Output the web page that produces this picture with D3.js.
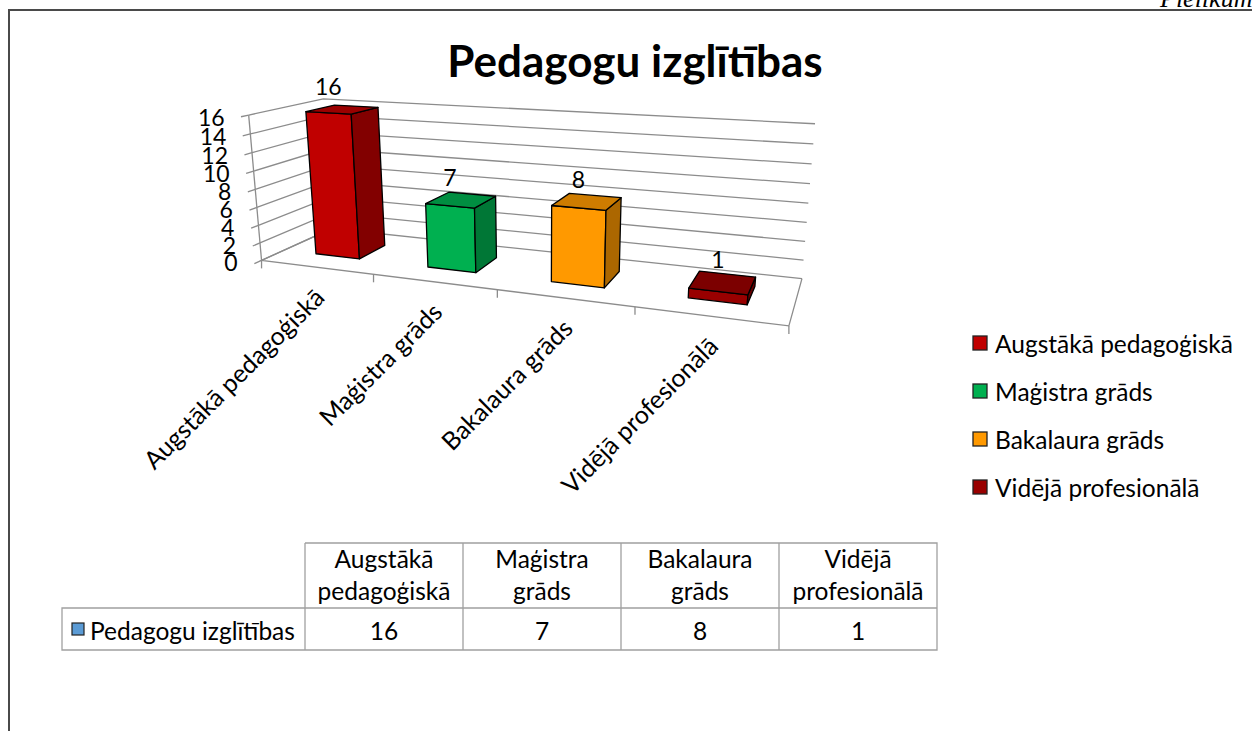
<!DOCTYPE html>
<html>
<head>
<meta charset="utf-8">
<script src="https://cdn.jsdelivr.net/npm/d3@7"></script>
<style>
  body { margin: 0; background: #fff; }
  svg text { font-family: Lato, "Open Sans", sans-serif; fill: #000; }
</style>
</head>
<body>
<div id="chart"></div>
<script>
// data
const title = "Pedagogu izglītības";
const seriesName = "Pedagogu izglītības";
const categories = ["Augstākā pedagoģiskā", "Maģistra grāds", "Bakalaura grāds", "Vidējā profesionālā"];
const values = [16, 7, 8, 1];
const barColors = ["#C00000", "#00B050", "#FF9900", "#990000"];
const yTicks = [0, 2, 4, 6, 8, 10, 12, 14, 16];
const seriesColor = "#5B9BD5";

const width = 1252, height = 731;

const svg = d3.select("#chart").append("svg")
    .attr("width", width)
    .attr("height", height);

// world scales (x across the categories, y up, z into the page)
const x = d3.scaleBand().domain(categories).range([0, 4]).paddingInner(0.6).paddingOuter(0.3);
const y = d3.scaleLinear().domain([0, 16]).range([0, 4]);
const zFront = 0.3, zBack = 0.7;

// fit a perspective camera on the corners of the plot box
const anchors = [
    {w: [0, 0, 0], s: [262, 261]},
    {w: [1, 0, 0], s: [373, 274]},
    {w: [2, 0, 0], s: [497, 290]},
    {w: [3, 0, 0], s: [634, 307]},
    {w: [4, 0, 0], s: [790, 325]},
    {w: [4, 0, 1], s: [802, 278]},
    {w: [0, 0, 1], s: [332, 229]},
    {w: [0, 4, 0], s: [249, 115]},
    {w: [0, 4, 1], s: [323, 98]},
    {w: [4, 4, 1], s: [815, 125]}
];

function fitCamera(pairs) {
    const n = 11;
    const M = d3.range(n).map(() => new Array(n + 1).fill(0));
    function add(row, rhs) {
        for (let i = 0; i < n; i++) {
            for (let j = 0; j < n; j++) M[i][j] += row[i] * row[j];
            M[i][n] += row[i] * rhs;
        }
    }
    pairs.forEach(({w: [X, Y, Z], s: [u, v]}) => {
        add([X, Y, Z, 1, 0, 0, 0, 0, -u * X, -u * Y, -u * Z], u);
        add([0, 0, 0, 0, X, Y, Z, 1, -v * X, -v * Y, -v * Z], v);
    });
    for (let c = 0; c < n; c++) {
        let p = c;
        for (let r = c + 1; r < n; r++) if (Math.abs(M[r][c]) > Math.abs(M[p][c])) p = r;
        [M[c], M[p]] = [M[p], M[c]];
        for (let r = 0; r < n; r++) {
            if (r === c) continue;
            const f = M[r][c] / M[c][c];
            for (let k = c; k <= n; k++) M[r][k] -= f * M[c][k];
        }
    }
    const p = M.map((row, i) => row[n] / row[i]);
    return ([X, Y, Z]) => {
        const w = p[8] * X + p[9] * Y + p[10] * Z + 1;
        return [(p[0] * X + p[1] * Y + p[2] * Z + p[3]) / w,
                (p[4] * X + p[5] * Y + p[6] * Z + p[7]) / w];
    };
}

const proj = fitCamera(anchors);
const line3 = pts => "M" + pts.map(p => proj(p).join(",")).join("L");
const poly3 = pts => line3(pts) + "Z";

// outer frame + cut page header
svg.append("path")
    .attr("d", `M9,${height}V10H${width}`)
    .attr("fill", "none")
    .attr("stroke", "#4a4a4a")
    .attr("stroke-width", 2);

svg.append("text")
    .attr("x", 1160).attr("y", 7)
    .style("font-family", "'Liberation Serif', serif")
    .style("font-style", "italic")
    .style("font-size", "26px")
    .text("Pielikums");

// title
svg.append("text")
    .attr("x", 635).attr("y", 77)
    .attr("text-anchor", "middle")
    .style("font-size", "44px")
    .style("font-weight", "bold")
    .text(title);

// walls and gridlines
const grid = svg.append("g")
    .attr("fill", "none")
    .attr("stroke", "#8c8c8c")
    .attr("stroke-width", 1.3);

grid.selectAll(".back")
    .data(yTicks)
    .join("path")
    .attr("d", t => line3([[0, y(t), 0], [0, y(t), 1], [4, y(t), 1]]));

// floor outline and axes
grid.append("path").attr("d", line3([[0, 0, 1], [0, 0, 0], [4, 0, 0], [4, 0, 1]]));
grid.append("path").attr("d", line3([[0, 0, 0], [0, y(16), 0]]));

grid.selectAll(".ytick")
    .data(yTicks)
    .join("path")
    .attr("d", t => line3([[0, y(t), 0], [0, y(t), -0.09]]));

grid.selectAll(".xtick")
    .data(d3.range(categories.length + 1))
    .join("path")
    .attr("d", i => {
        const [px, py] = proj([i * x.step(), 0, 0]);
        return `M${px},${py}V${py + 8}`;
    });

// value axis labels
svg.append("g")
    .selectAll("text")
    .data(yTicks)
    .join("text")
    .attr("x", t => proj([0, y(t), 0])[0] - 24)
    .attr("y", t => proj([0, y(t), 0])[1] + 2)
    .attr("text-anchor", "end")
    .attr("dominant-baseline", "central")
    .style("font-size", "23px")
    .text(d => d);

// category labels
svg.append("g")
    .selectAll("text")
    .data(categories)
    .join("text")
    .attr("transform", c => {
        const [px, py] = proj([x(c) + x.bandwidth() / 2, 0, 0]);
        return `translate(${px + 10},${py + 32}) rotate(-45)`;
    })
    .attr("text-anchor", "end")
    .style("font-size", "25px")
    .text(d => d);

// bars
const bars = categories.map((c, i) => ({
    cat: c, value: values[i], color: barColors[i],
    x0: x(c), x1: x(c) + x.bandwidth(), h: y(values[i])
}));

const bar = svg.append("g")
    .attr("stroke", "#000")
    .attr("stroke-width", 1.3)
    .attr("stroke-linejoin", "round")
    .selectAll("g")
    .data(bars)
    .join("g");

bar.append("path")
    .attr("fill", d => d.color)
    .attr("d", d => poly3([[d.x0, 0, zFront], [d.x1, 0, zFront], [d.x1, d.h, zFront], [d.x0, d.h, zFront]]));
bar.append("path")
    .attr("fill", d => d3.color(d.color).darker(1.1))
    .attr("d", d => poly3([[d.x1, 0, zFront], [d.x1, 0, zBack], [d.x1, d.h, zBack], [d.x1, d.h, zFront]]));
bar.append("path")
    .attr("fill", d => d3.color(d.color).darker(0.6))
    .attr("d", d => poly3([[d.x0, d.h, zFront], [d.x1, d.h, zFront], [d.x1, d.h, zBack], [d.x0, d.h, zBack]]));

// data labels
svg.append("g")
    .selectAll("text")
    .data(bars)
    .join("text")
    .attr("x", d => proj([(d.x0 + d.x1) / 2, d.h, zFront])[0])
    .attr("y", d => proj([(d.x0 + d.x1) / 2, d.h, (zFront + zBack) / 2])[1] - 23)
    .attr("text-anchor", "middle")
    .attr("dominant-baseline", "central")
    .style("font-size", "23px")
    .text(d => d.value);

// legend
const legend = svg.append("g")
    .selectAll("g")
    .data(bars)
    .join("g")
    .attr("transform", (d, i) => `translate(973,${343 + i * 48})`);

legend.append("rect")
    .attr("x", 0).attr("y", -7)
    .attr("width", 14).attr("height", 14)
    .attr("fill", d => d.color)
    .attr("stroke", "#222")
    .attr("stroke-width", 1.3);

legend.append("text")
    .attr("x", 22)
    .attr("dominant-baseline", "central")
    .style("font-size", "24.5px")
    .text(d => d.cat);

// data table
const colEdges = [305, 463, 621, 779, 937];
const rowEdges = [543, 608, 650];
const labelLeft = 62;
const table = svg.append("g");
const tableLines = table.append("g")
    .attr("stroke", "#a0a0a0")
    .attr("stroke-width", 1.3)
    .attr("fill", "none");

tableLines.append("path")
    .attr("d", `M${colEdges[0]},${rowEdges[0]}H${colEdges[4]}V${rowEdges[2]}H${labelLeft}V${rowEdges[1]}H${colEdges[4]}`);
tableLines.selectAll(".col")
    .data(colEdges.slice(0, 4))
    .join("path")
    .attr("d", cx => `M${cx},${rowEdges[0]}V${rowEdges[2]}`);

const cols = table.selectAll(".cell")
    .data(categories)
    .join("g")
    .attr("transform", (c, i) => `translate(${(colEdges[i] + colEdges[i + 1]) / 2},0)`);

cols.append("text")
    .attr("text-anchor", "middle")
    .style("font-size", "24.5px")
    .selectAll("tspan")
    .data(c => c.split(" "))
    .join("tspan")
    .attr("x", 0)
    .attr("y", (d, i) => 568 + i * 32)
    .text(d => d);

cols.append("text")
    .attr("y", 630)
    .attr("text-anchor", "middle")
    .attr("dominant-baseline", "central")
    .style("font-size", "24.5px")
    .text((c, i) => values[i]);

table.append("rect")
    .attr("x", 72).attr("y", 623)
    .attr("width", 12).attr("height", 12)
    .attr("fill", seriesColor)
    .attr("stroke", "#222")
    .attr("stroke-width", 1.2);

table.append("text")
    .attr("x", 90).attr("y", 630)
    .attr("dominant-baseline", "central")
    .style("font-size", "24.5px")
    .text(seriesName);
</script>
</body>
</html>
